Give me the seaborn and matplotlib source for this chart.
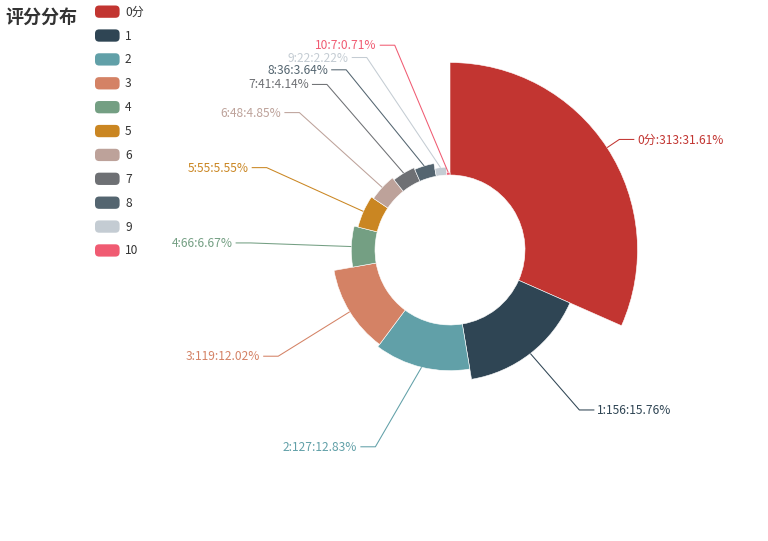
import numpy as np
import matplotlib
matplotlib.use("Agg")
import matplotlib.pyplot as plt
import seaborn as sns
from matplotlib.patches import Wedge, Patch, FancyBboxPatch
from matplotlib.legend_handler import HandlerPatch

# 数据
names = ["0分", "1", "2", "3", "4", "5", "6", "7", "8", "9", "10"]
counts = [313, 156, 127, 119, 66, 55, 48, 41, 36, 22, 7]
colors = ["#c23531", "#2f4554", "#61a0a8", "#d48265", "#749f83", "#ca8622",
          "#bda29a", "#6e7074", "#546570", "#c4ccd3", "#f05b72"]
title = "评分分布"

sns.set_theme(style="white")
plt.rcParams["font.family"] = ["Noto Sans CJK SC", "DejaVu Sans"]
palette = sns.color_palette(colors)

W, H = 768, 541
CX, CY = 450, 250
R0, R = 75, 187.5
LEN1, LEN2 = 15, 15
FS = 8.64          # 12px
TXT_H = 12.3       # label height in px


def percents(vals, prec=2):
    # largest remainder, like echarts getPercentWithPrecision
    vals = np.asarray(vals, dtype=float)
    digits = 10 ** prec
    seats = vals / vals.sum() * 100 * digits
    base = np.floor(seats)
    left = int(100 * digits - base.sum())
    order = np.argsort(-(seats - base), kind="stable")
    base[order[:left]] += 1
    return base / digits


pct = percents(counts)
total = sum(counts)
vmax = max(counts)

fig = plt.figure(figsize=(W / 100, H / 100), dpi=100)
ax = fig.add_axes([0, 0, 1, 1])
ax.set_xlim(0, W)
ax.set_ylim(H, 0)
ax.axis("off")

labels = []
cum = 0
for i, v in enumerate(counts):
    a1 = -90 + 360 * cum / total
    a2 = -90 + 360 * (cum + v) / total
    cum += v
    r = R0 + (R - R0) * v / vmax
    ax.add_patch(Wedge((CX, CY), r, a1, a2, width=r - R0,
                       facecolor=palette[i], edgecolor="white", linewidth=0.4))
    mid = np.deg2rad((a1 + a2) / 2)
    dx, dy = np.cos(mid), np.sin(mid)
    x1, y1 = CX + r * dx, CY + r * dy
    x2, y2 = CX + (R + LEN1) * dx, CY + (R + LEN1) * dy
    side = 1 if dx >= 0 else -1
    x3 = x2 + side * LEN2
    labels.append(dict(i=i, x=x3 + side * 5, y=y2, side=side,
                       pts=[[x1, y1], [x2, y2], [x3, y2]]))


def adjust_side(lst, side):
    lst.sort(key=lambda d: d["y"])
    n = len(lst)

    def shift_up(end, delta):
        for j in range(end, -1, -1):
            lst[j]["y"] -= delta
            if j > 0 and lst[j]["y"] > lst[j - 1]["y"] + TXT_H:
                break

    def shift_down(start, end, delta):
        for j in range(start, end):
            lst[j]["y"] += delta
            if j > start and j + 1 < end and lst[j + 1]["y"] > lst[j]["y"] + TXT_H:
                shift_up(j, delta / 2)
                return
        shift_up(end - 1, delta / 2)

    last_y = 0
    for k in range(n):
        top = lst[k]["y"] - TXT_H / 2
        delta = top - last_y
        if delta < 0:
            shift_down(k, n, -delta)
        last_y = lst[k]["y"] + TXT_H / 2

    def change_x(sub, is_down):
        last_dx = 1e9 if is_down else 0
        rr = R + LEN1 + LEN2
        for d in sub:
            dy = abs(d["y"] - CY)
            if dy < rr:
                ddx = np.sqrt(rr * rr - dy * dy)
            else:
                ddx = abs(d["x"] - CX)
            if is_down and ddx >= last_dx:
                ddx = last_dx - 10
            if not is_down and ddx <= last_dx:
                ddx = last_dx + 10
            d["x"] = CX + ddx * side
            last_dx = ddx

    change_x([d for d in lst if d["y"] < CY], False)
    change_x([d for d in lst if d["y"] >= CY], True)


adjust_side([d for d in labels if d["side"] > 0], 1)
adjust_side([d for d in labels if d["side"] < 0], -1)

for d in labels:
    i = d["i"]
    p = d["pts"]
    dist = p[1][0] - p[2][0]
    p[2][0] = d["x"] + 3 if d["side"] < 0 else d["x"] - 3
    p[1][1] = p[2][1] = d["y"]
    p[1][0] = p[2][0] + dist
    ax.plot([q[0] for q in p], [q[1] for q in p], color=palette[i], lw=0.75,
            solid_capstyle="butt")
    ax.text(d["x"], d["y"] + 0.5, f"{names[i]}:{counts[i]}:{pct[i]:.2f}%",
            color=palette[i], fontsize=FS,
            ha="left" if d["side"] > 0 else "right", va="center")

# 标题
ax.text(5, 17, title, fontsize=13, fontweight="bold", color="#333333",
        ha="left", va="center")


class RoundHandler(HandlerPatch):
    def create_artists(self, legend, orig_handle, xdescent, ydescent,
                       width, height, fontsize, trans):
        box = FancyBboxPatch((-xdescent, -ydescent), width, height,
                             boxstyle="round,pad=0,rounding_size=3",
                             facecolor=orig_handle.get_facecolor(),
                             edgecolor="none", transform=trans)
        return [box]


handles = [Patch(facecolor=palette[i], label=names[i]) for i in range(len(names))]
leg = fig.legend(handles=handles, loc="upper left",
                 bbox_to_anchor=(95 / W, 1 - 5.5 / H), frameon=False,
                 fontsize=FS, handlelength=2.05, handleheight=1.2,
                 handletextpad=0.45, labelspacing=0.89, borderpad=0,
                 borderaxespad=0, handler_map={Patch: RoundHandler()})
for t in leg.get_texts():
    t.set_color("#333333")

fig.savefig("out.png", dpi=100, facecolor="white")
